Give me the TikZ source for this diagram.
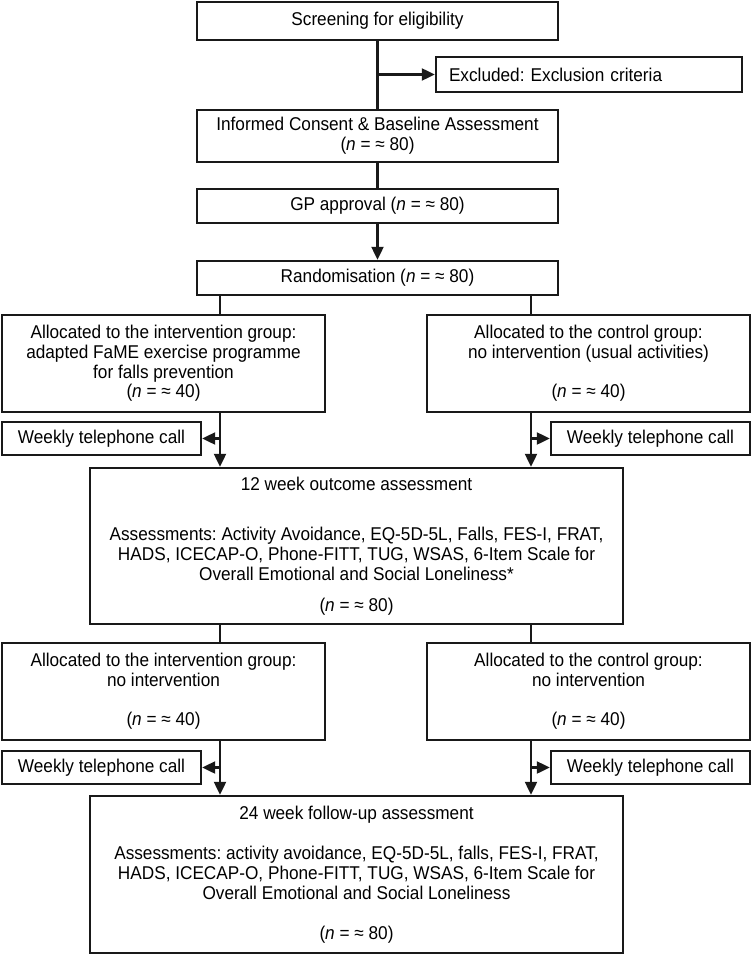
\documentclass[tikz,border=0pt]{standalone}
\usepackage{fontspec}
\setmainfont{Liberation Sans}[FakeStretch=0.93]
\usetikzlibrary{arrows.meta}
\frenchspacing
\begin{document}
\begin{tikzpicture}[x=1pt,y=-1pt,
  box/.style={draw=black!90, line width=2.4pt, fill=white, inner sep=2pt, align=center,
    font=\fontsize{18.5}{19.8}\selectfont},
  conn/.style={line width=2.2pt, draw=black!90},
  arr/.style={line width=2.2pt, draw=black!90, -{Triangle[length=13pt,width=12pt]}}]
\useasboundingbox (0,0) rectangle (752,955);
\fill[white] (0,0) rectangle (752,955);

\node[box, minimum width=361pt, minimum height=38pt] (screen) at (377.5,21) {Screening for eligibility};
\node[box, inner xsep=13pt, text width=280pt, align=left, minimum height=35pt] (excl) at (589,74.5) {Excluded: Exclusion criteria};
\node[box, minimum width=361pt, minimum height=52pt] (informed) at (377.5,136) {Informed Consent \& Baseline Assessment\\(\textit{n} = ≈ 80)};
\node[box, minimum width=361pt, minimum height=34pt] (gp) at (377.5,206) {GP approval (\textit{n} = ≈ 80)};
\node[box, minimum width=361pt, minimum height=34pt] (rand) at (377.5,278) {Randomisation (\textit{n} = ≈ 80)};

\node[box, minimum width=323pt, minimum height=97pt] (aL1) at (163.5,363.5) {Allocated to the intervention group:\\adapted FaME exercise programme\\for falls prevention\\(\textit{n} = ≈ 40)};
\node[box, minimum width=323pt, minimum height=97pt] (aR1) at (588.5,363.5) {Allocated to the control group:\\no intervention (usual activities)\\[19.3pt](\textit{n} = ≈ 40)};

\node[box, minimum width=199pt, minimum height=33pt] (wL1) at (101.5,438.5) {Weekly telephone call};
\node[box, minimum width=199pt, minimum height=33pt] (wR1) at (650.5,438.5) {Weekly telephone call};

\node[box, minimum width=533pt, minimum height=156pt] (w12) at (356.5,546) {12 week outcome assessment\\[30.2pt]Assessments: Activity Avoidance, EQ-5D-5L, Falls, FES-I, FRAT,\\HADS, ICECAP-O, Phone-FITT, TUG, WSAS, 6-Item Scale for\\Overall Emotional and Social Loneliness*\\[11.2pt](\textit{n} = ≈ 80)};

\node[box, minimum width=323pt, minimum height=97pt] (aL2) at (163.5,691.5) {Allocated to the intervention group:\\no intervention\\[19.3pt](\textit{n} = ≈ 40)};
\node[box, minimum width=323pt, minimum height=97pt] (aR2) at (588.5,691.5) {Allocated to the control group:\\no intervention\\[19.3pt](\textit{n} = ≈ 40)};

\node[box, minimum width=199pt, minimum height=33pt] (wL2) at (101.5,767.5) {Weekly telephone call};
\node[box, minimum width=199pt, minimum height=33pt] (wR2) at (650.5,767.5) {Weekly telephone call};

\node[box, minimum width=533pt, minimum height=157pt] (w24) at (356.5,874.5) {24 week follow-up assessment\\[20.2pt]Assessments: activity avoidance, EQ-5D-5L, falls, FES-I, FRAT,\\HADS, ICECAP-O, Phone-FITT, TUG, WSAS, 6-Item Scale for\\Overall Emotional and Social Loneliness\\[20.2pt](\textit{n} = ≈ 80)};

\coordinate (xl) at (220,0);
\coordinate (xr) at (531,0);

\draw[conn] (screen.south) -- (informed.north);
\draw[arr] (screen.south |- excl.west) -- (excl.west);
\draw[conn] (informed.south) -- (gp.north);
\draw[arr] (gp.south) -- (rand.north);

\draw[conn] (rand.south -| xl) -- (aL1.north -| xl);
\draw[conn] (rand.south -| xr) -- (aR1.north -| xr);

\draw[arr] (aL1.south -| xl) -- (w12.north -| xl);
\draw[arr] (aR1.south -| xr) -- (w12.north -| xr);
\draw[arr] (xl |- wL1.east) -- (wL1.east);
\draw[arr] (xr |- wR1.west) -- (wR1.west);

\draw[conn] (w12.south -| xl) -- (aL2.north -| xl);
\draw[conn] (w12.south -| xr) -- (aR2.north -| xr);

\draw[arr] (aL2.south -| xl) -- (w24.north -| xl);
\draw[arr] (aR2.south -| xr) -- (w24.north -| xr);
\draw[arr] (xl |- wL2.east) -- (wL2.east);
\draw[arr] (xr |- wR2.west) -- (wR2.west);
\end{tikzpicture}
\end{document}
